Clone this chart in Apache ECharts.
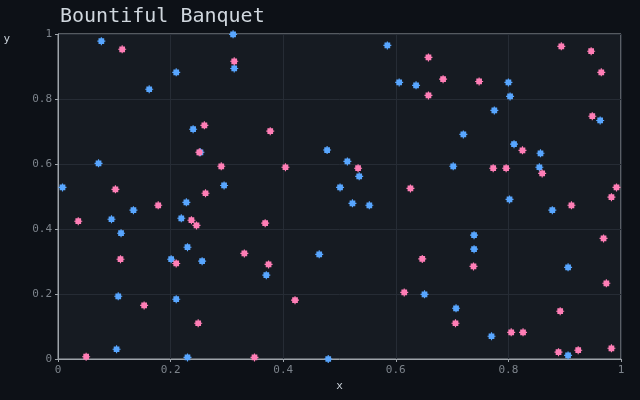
<!DOCTYPE html>
<html>
<head>
<meta charset="utf-8">
<script src="https://cdn.jsdelivr.net/npm/echarts@6/dist/echarts.min.js"></script>
<style>
  html, body { margin: 0; padding: 0; background: #0d1117; }
  #chart { width: 640px; height: 400px; }
</style>
</head>
<body>
<div id="chart"></div>
<script>
// values
const blueX = [0.008, 0.077, 0.072, 0.095, 0.112, 0.107, 0.104, 0.134, 0.162, 0.210, 0.219, 0.228, 0.201,
  0.210, 0.230, 0.230, 0.240, 0.256, 0.253, 0.311, 0.313, 0.295, 0.370, 0.478, 0.464, 0.480,
  0.501, 0.514, 0.523, 0.535, 0.553, 0.585, 0.606, 0.636, 0.651, 0.702, 0.707, 0.720, 0.739,
  0.739, 0.770, 0.775, 0.800, 0.803, 0.802, 0.810, 0.857, 0.855, 0.878, 0.906, 0.906, 0.963];
const blueY = [0.528, 0.978, 0.602, 0.430, 0.387, 0.193, 0.030, 0.458, 0.830, 0.882, 0.433, 0.482, 0.307,
  0.184, 0.344, 0.005, 0.707, 0.301, 0.636, 0.999, 0.894, 0.534, 0.258, 0.643, 0.322, 0.000,
  0.528, 0.608, 0.479, 0.562, 0.473, 0.965, 0.851, 0.842, 0.199, 0.593, 0.156, 0.691, 0.381,
  0.338, 0.070, 0.765, 0.851, 0.808, 0.491, 0.661, 0.633, 0.590, 0.458, 0.282, 0.011, 0.734];

const pinkX = [0.036, 0.050, 0.102, 0.111, 0.114, 0.153, 0.178, 0.210, 0.237, 0.246, 0.251, 0.249, 0.260,
  0.262, 0.290, 0.313, 0.331, 0.349, 0.368, 0.374, 0.377, 0.404, 0.421, 0.533, 0.626, 0.615,
  0.647, 0.658, 0.658, 0.684, 0.706, 0.738, 0.748, 0.773, 0.796, 0.805, 0.826, 0.825, 0.860,
  0.889, 0.894, 0.892, 0.912, 0.924, 0.947, 0.949, 0.965, 0.969, 0.974, 0.983, 0.983, 0.992];
const pinkY = [0.424, 0.007, 0.522, 0.307, 0.953, 0.165, 0.473, 0.294, 0.427, 0.411, 0.636, 0.110, 0.719,
  0.510, 0.593, 0.916, 0.325, 0.005, 0.418, 0.291, 0.701, 0.590, 0.181, 0.587, 0.525, 0.205,
  0.308, 0.928, 0.811, 0.861, 0.110, 0.285, 0.854, 0.587, 0.587, 0.082, 0.082, 0.642, 0.571,
  0.021, 0.962, 0.147, 0.473, 0.027, 0.947, 0.747, 0.882, 0.371, 0.233, 0.498, 0.033, 0.528];

const mono = 'DejaVu Sans Mono';
// little square with a pip on each side
const marker = 'path://M1,1H3V0H4V1H6V3H7V4H6V6H4V7H3V6H1V4H0V3H1Z';

const zip = (xs, ys) => xs.map((x, i) => [x, ys[i]]);

const chart = echarts.init(document.getElementById('chart'));
chart.setOption({
  backgroundColor: '#0d1117',
  animation: false,
  title: {
    text: 'Bountiful Banquet',
    left: 55, top: 2,
    textStyle: { color: '#d0d7de', fontFamily: mono, fontSize: 20, fontWeight: 'normal' }
  },
  grid: {
    left: 58, right: 19, top: 34, bottom: 41,
    show: true, backgroundColor: '#161b22',
    borderColor: '#9ea4aa', borderWidth: 1
  },
  xAxis: {
    type: 'value', min: 0, max: 1, interval: 0.2,
    name: 'x', nameLocation: 'middle', nameGap: 19,
    nameTextStyle: { color: '#c9d1d9', fontFamily: mono, fontSize: 11 },
    axisLine: { lineStyle: { color: '#9ea4aa' } },
    axisTick: { show: true, length: 3, lineStyle: { color: '#9ea4aa' } },
    axisLabel: { color: '#7d848c', fontFamily: mono, fontSize: 11, margin: 6 },
    splitLine: { lineStyle: { color: '#262c35' } }
  },
  yAxis: {
    type: 'value', min: 0, max: 1, interval: 0.2,
    name: 'y', nameLocation: 'end', nameGap: 0,
    nameTextStyle: { color: '#c9d1d9', fontFamily: mono, fontSize: 11, align: 'right',
      verticalAlign: 'top', padding: [0, 48, 0, 0] },
    axisLine: { lineStyle: { color: '#9ea4aa' } },
    axisTick: { show: true, length: 3, lineStyle: { color: '#9ea4aa' } },
    axisLabel: { color: '#7d848c', fontFamily: mono, fontSize: 11, margin: 6 },
    splitLine: { lineStyle: { color: '#262c35' } }
  },
  series: [
    {
      type: 'scatter', name: 'blue', data: zip(blueX, blueY),
      symbol: marker, symbolSize: 8,
      itemStyle: { color: '#58a6ff', opacity: 1 }
    },
    {
      type: 'scatter', name: 'pink', data: zip(pinkX, pinkY),
      symbol: marker, symbolSize: 8,
      itemStyle: { color: '#ff7eb6', opacity: 1 }
    }
  ]
});
</script>
</body>
</html>
